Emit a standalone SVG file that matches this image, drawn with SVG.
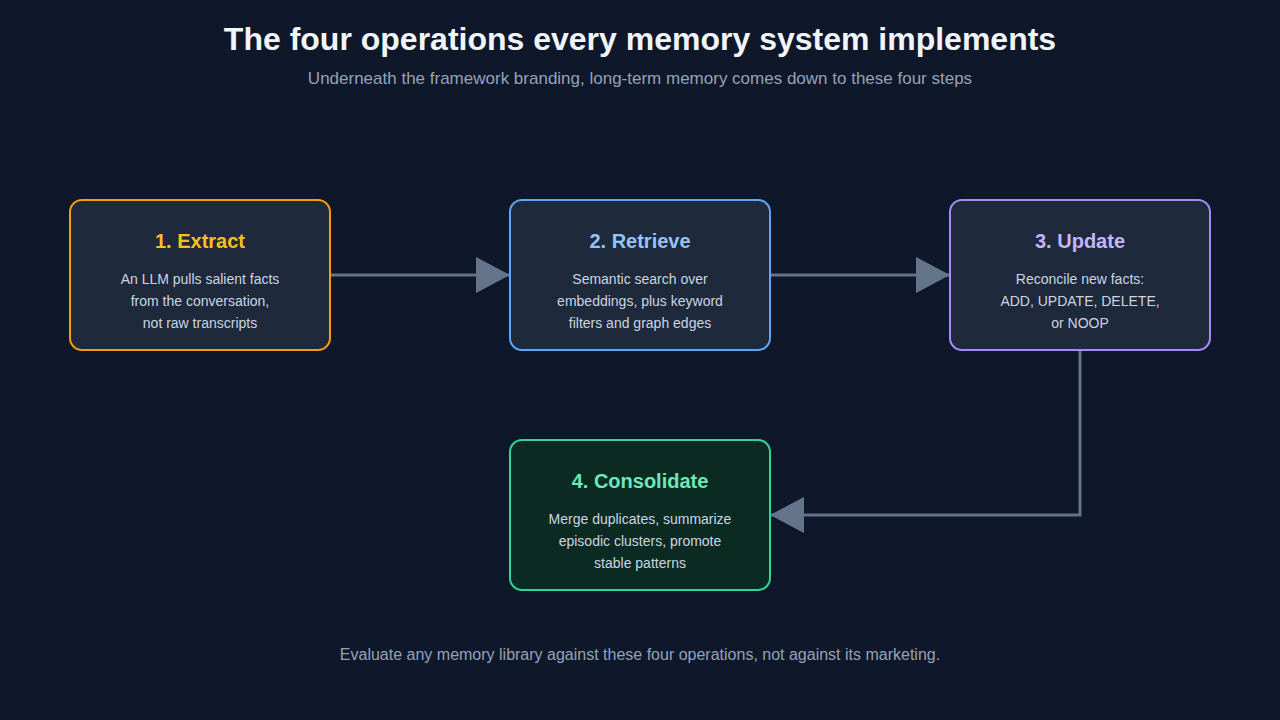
<svg xmlns="http://www.w3.org/2000/svg" width="1280" height="720" viewBox="0 0 1280 720">
<defs>
<style>
.t{font-family:"Liberation Sans",Arial,sans-serif;text-anchor:middle}
.h{font-size:20px;font-weight:bold}
.d{font-size:14px;fill:#cbd5e1}
.box{stroke-width:2}
.c{stroke:#64748b;stroke-width:3;fill:none}
</style>
<marker id="ah" markerUnits="userSpaceOnUse" markerWidth="36" markerHeight="38" refX="34" refY="18" orient="auto">
<path d="M0,0 L34,18 L0,36 Z" fill="#64748b"/>
</marker>
</defs>
<rect width="1280" height="720" fill="#0f172a"/>
<text class="t" x="640" y="50" font-size="32" font-weight="bold" fill="#f1f5f9">The four operations every memory system implements</text>
<text class="t" x="640" y="84" font-size="17" fill="#94a3b8">Underneath the framework branding, long-term memory comes down to these four steps</text>
<g id="connectors">
<line class="c" x1="331" y1="275" x2="510" y2="275" marker-end="url(#ah)"/>
<line class="c" x1="771" y1="275" x2="950" y2="275" marker-end="url(#ah)"/>
<polyline class="c" points="1080,351 1080,515 770,515" marker-end="url(#ah)"/>
</g>
<g id="extract">
<rect class="box" x="70" y="200" width="260" height="150" rx="12" fill="#1e293b" stroke="#f59e0b"/>
<text class="t h" x="200" y="248" fill="#fbbf24">1. Extract</text>
<text class="t d" x="200" y="284">An LLM pulls salient facts</text>
<text class="t d" x="200" y="306">from the conversation,</text>
<text class="t d" x="200" y="328">not raw transcripts</text>
</g>
<g id="retrieve">
<rect class="box" x="510" y="200" width="260" height="150" rx="12" fill="#1e293b" stroke="#60a5fa"/>
<text class="t h" x="640" y="248" fill="#93c5fd">2. Retrieve</text>
<text class="t d" x="640" y="284">Semantic search over</text>
<text class="t d" x="640" y="306">embeddings, plus keyword</text>
<text class="t d" x="640" y="328">filters and graph edges</text>
</g>
<g id="update">
<rect class="box" x="950" y="200" width="260" height="150" rx="12" fill="#1e293b" stroke="#a78bfa"/>
<text class="t h" x="1080" y="248" fill="#c4b5fd">3. Update</text>
<text class="t d" x="1080" y="284">Reconcile new facts:</text>
<text class="t d" x="1080" y="306">ADD, UPDATE, DELETE,</text>
<text class="t d" x="1080" y="328">or NOOP</text>
</g>
<g id="consolidate">
<rect class="box" x="510" y="440" width="260" height="150" rx="12" fill="#0b2a22" stroke="#34d399"/>
<text class="t h" x="640" y="488" fill="#6ee7b7">4. Consolidate</text>
<text class="t d" x="640" y="524">Merge duplicates, summarize</text>
<text class="t d" x="640" y="546">episodic clusters, promote</text>
<text class="t d" x="640" y="568">stable patterns</text>
</g>
<text class="t" x="640" y="660" font-size="16" fill="#94a3b8">Evaluate any memory library against these four operations, not against its marketing.</text>
</svg>
